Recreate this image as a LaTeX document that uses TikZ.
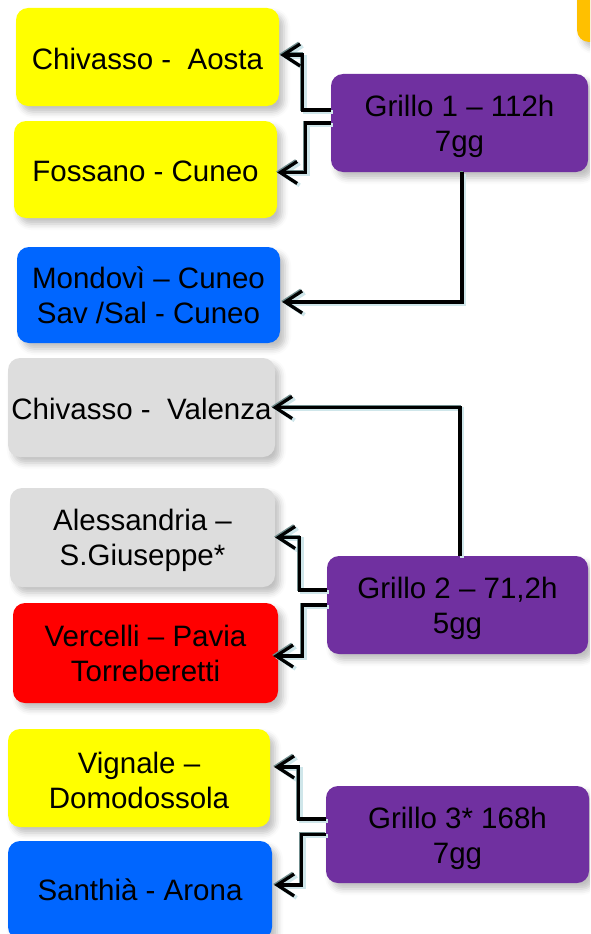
\documentclass[tikz,border=0pt]{standalone}
\usepackage{fontspec}
\setmainfont{Liberation Sans}
\usetikzlibrary{arrows.meta,shadows.blur}
\definecolor{cyel}{HTML}{FFFF00}
\definecolor{cblue}{HTML}{0066FF}
\definecolor{cgrey}{HTML}{DDDDDD}
\definecolor{cred}{HTML}{FF0000}
\definecolor{cpurp}{HTML}{7030A0}
\definecolor{corange}{HTML}{FFC000}
\definecolor{cshadeA}{HTML}{6F8C8C}
\definecolor{cshadeB}{HTML}{CFE6EA}
\newcommand{\uprule}{\rule{0pt}{29pt}}
\newcommand{\onerule}{\rule{0pt}{25pt}}
\begin{document}
\begin{tikzpicture}[x=1pt,y=-1pt,
  box/.style={rounded corners=12pt, inner sep=0pt, align=center,
    font=\fontsize{29.5pt}{35pt}\selectfont,
    blur shadow={shadow xshift=5pt,shadow yshift=-6pt,shadow blur radius=6pt,shadow opacity=25}},
  conn/.style={line width=3.2pt, draw=black, -{Straight Barb[length=17pt,width=22pt]},
    preaction={draw=cshadeB, line width=4pt, transform canvas={xshift=1.8pt,yshift=-1.8pt}},
    preaction={draw=cshadeA, line width=3pt, transform canvas={xshift=-1pt,yshift=1pt}}},
]
\useasboundingbox (0,0) rectangle (590,934);
\begin{scope}
\clip (0,0) rectangle (590,934);
\node[box, fill=corange, minimum width=80pt, minimum height=100pt] (O) at (617,-8) {};

\node[box, fill=cyel, minimum width=263pt, minimum height=98pt] (B1) at (147.5,57) {\onerule Chivasso -\ \ Aosta};
\node[box, fill=cyel, minimum width=263pt, minimum height=97pt] (B2) at (145.5,169.5) {\onerule Fossano - Cuneo};
\node[box, fill=cblue, minimum width=263pt, minimum height=96pt] (B3) at (148.5,295) {Mondovì – Cuneo\\Sav /Sal - Cuneo};
\node[box, fill=cgrey, minimum width=267pt, minimum height=99pt] (B4) at (141.5,407.5) {\onerule Chivasso -\ \ Valenza};
\node[box, fill=cgrey, minimum width=265pt, minimum height=99pt] (B5) at (142.5,537.5) {\rule{0pt}{27pt}Alessandria –\\S.Giuseppe*};
\node[box, fill=cred, minimum width=265pt, minimum height=100pt] (B6) at (145.5,653) {Vercelli – Pavia\\Torreberetti};
\node[box, fill=cyel, minimum width=262pt, minimum height=98pt] (B7) at (139,778) {\rule{0pt}{26pt}Vignale –\\Domodossola};
\node[box, fill=cblue, minimum width=264pt, minimum height=98pt] (B8) at (140,890) {Santhià - Arona};

\node[box, fill=cpurp, minimum width=257pt, minimum height=98pt] (G1) at (459.5,123) {\uprule Grillo 1 – 112h\\7gg};
\node[box, fill=cpurp, minimum width=261pt, minimum height=98pt] (G2) at (457.5,605) {\uprule Grillo 2 – 71,2h\\5gg};
\node[box, fill=cpurp, minimum width=263pt, minimum height=97pt] (G3) at (457.5,834.5) {\uprule Grillo 3* 168h\\7gg};

\draw[conn] ([yshift=13pt]G1.west) -- ++(-28,0) |- ([xshift=1pt,yshift=2pt]B1.east);
\draw[conn] (G1.west) -- ++(-25,0) |- ([yshift=-3pt]B2.east);
\draw[conn] ([xshift=2.5pt]G1.south) |- ([xshift=2pt,yshift=-7pt]B3.east);
\draw[conn] ([xshift=2.5pt]G2.north) |- ([xshift=-3pt]B4.east);
\draw[conn] ([yshift=15pt]G2.west) -- ++(-27,0) |- (B5.east);
\draw[conn] (G2.west) -- ++(-24,0) |- ([xshift=-5pt,yshift=-3pt]B6.east);
\draw[conn] ([yshift=15.5pt]G3.west) -- ++(-27,0) |- ([xshift=4pt,yshift=11pt]B7.east);
\draw[conn] (G3.west) -- ++(-24,0) |- ([xshift=2pt,yshift=5pt]B8.east);
\end{scope}
\end{tikzpicture}
\end{document}
